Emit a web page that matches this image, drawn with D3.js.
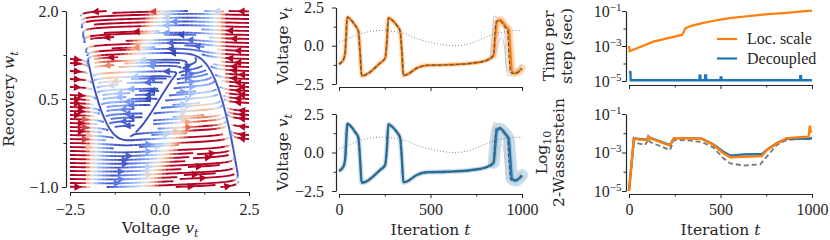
<!DOCTYPE html>
<html>
<head>
<meta charset="utf-8">
<script src="https://cdn.jsdelivr.net/npm/d3@7"></script>
<style>
  body { margin: 0; background: #fff; }
  svg text { font-family: "Liberation Serif", "Times New Roman", serif; font-size: 16px; fill: #262626; }
  svg text.lab { font-family: "DejaVu Serif", serif; font-size: 15.5px; }
</style>
</head>
<body>
<svg id="chart" width="830" height="240"></svg>
<script>
// FitzHugh-Nagumo field drawn in the phase portrait
var fhnI = 0.5, fhnA = 0.7, fhnB = 0.8, fhnTau = 40;
var vExtent = [-2.5, 2.5],
    wExtent = [-1, 2],
    streamDensity = 1.5,
    colorNorm = [0, 2.0];

// ticks
var voltTicks = [-2.5, 0, 2.5], voltMinor = [-1.25, 1.25];
var recovTicks = [-1, 0.5, 2], recovMinor = [-0.25, 1.25];
var iterTicks = [0, 500, 1000], iterMinor = [250, 750];
var logTicks = [1e-5, 1e-3, 1e-1], logMinor = [1e-4, 1e-2];

// voltage traces (filter means)
var tVolt = [0, 24, 33, 46, 60, 88, 106, 115, 124, 133, 224, 252, 261, 270, 288, 316, 334, 343, 352, 370,
             425, 480, 589, 717, 808, 845, 854, 863, 881, 909, 927, 936, 945, 964, 1000];
var voltLoc = [-1.20, -0.92, -0.50, 1.87, 1.76, 1.33, 0.95, -0.40, -1.96, -1.95, -1.14, -0.82, 0.15, 1.83, 1.70, 1.33, 0.95, -0.30, -1.94, -1.89,
               -1.46, -1.28, -1.25, -1.15, -0.95, -0.62, 0.60, 1.55, 1.68, 1.30, 1.05, -0.30, -1.68, -1.80, -1.46];
var voltDec = [-1.20, -0.92, -0.50, 1.87, 1.76, 1.33, 0.95, -0.40, -1.96, -1.95, -1.14, -0.82, 0.15, 1.83, 1.70, 1.33, 0.95, -0.30, -1.94, -1.89,
               -1.46, -1.28, -1.25, -1.15, -0.95, -0.66, 0.45, 1.45, 1.55, 1.20, 0.90, -0.40, -1.70, -1.82, -1.48];
// ground truth (dashed)
var tTrue = [0, 24, 33, 46, 60, 88, 106, 115, 124, 133, 224, 252, 261, 270, 288, 316, 334, 343, 352, 370,
             425, 480, 589, 717, 808, 845, 852, 860, 878, 905, 921, 929, 938, 958, 1000];
var voltTrue = [-1.20, -0.92, -0.50, 1.87, 1.76, 1.33, 0.95, -0.40, -1.96, -1.95, -1.14, -0.82, 0.15, 1.83, 1.70, 1.33, 0.95, -0.30, -1.94, -1.89,
                -1.46, -1.28, -1.25, -1.15, -0.95, -0.60, 0.80, 1.60, 1.62, 1.25, 0.98, -0.60, -1.75, -1.83, -1.52];
// two light sample paths
var tSampleA = [0, 24, 33, 46, 60, 88, 106, 117, 126, 135, 224, 252, 262, 272, 290, 316, 334, 345, 354, 372,
                425, 480, 589, 717, 790, 827, 838, 848, 858, 880, 900, 908, 915, 925, 950, 1000];
var sampleA = [-1.15, -0.90, -0.45, 1.85, 1.75, 1.35, 0.98, -0.40, -1.94, -1.93, -1.12, -0.80, 0.15, 1.82, 1.70, 1.35, 0.98, -0.30, -1.92, -1.88,
               -1.45, -1.27, -1.24, -1.12, -1.00, -0.70, 0.80, 1.95, 1.90, 1.70, 1.40, 0.50, -1.60, -1.95, -1.85, -1.25];
var tSampleB = [0, 24, 33, 46, 60, 88, 106, 113, 122, 131, 224, 252, 260, 269, 288, 316, 334, 341, 350, 368,
                425, 480, 589, 717, 808, 850, 870, 885, 895, 905, 915, 930, 960, 1000];
var sampleB = [-1.25, -0.95, -0.55, 1.88, 1.77, 1.30, 0.92, -0.40, -1.97, -1.96, -1.16, -0.84, 0.10, 1.84, 1.70, 1.30, 0.92, -0.30, -1.95, -1.90,
               -1.47, -1.29, -1.26, -1.17, -0.97, -0.72, 0.15, 0.50, 0.42, -0.20, -1.30, -1.70, -1.60, -1.22];
// input current (dotted)
var tInput = [0, 60, 115, 180, 243, 316, 380, 425, 490, 553, 626, 680, 717, 760, 808, 860, 900, 950, 1000];
var inputCurrent = [0.22, 0.52, 0.78, 0.95, 1.0, 0.9, 0.7, 0.47, 0.25, 0.09, 0.0, 0.05, 0.15, 0.35, 0.58, 0.8, 0.9, 0.98, 1.0];

// time per step (sec)
var tStepLoc = [0, 3, 133, 288, 298, 307, 325, 350, 407, 450, 498, 560, 620, 680, 760, 863, 930, 1000];
var stepLoc = [1.0e-3, 5.0e-4, 1.78e-3, 4.3e-3, 6.0e-3, 1.0e-2, 1.26e-2, 1.5e-2, 2.1e-2, 2.6e-2, 3.2e-2, 4.0e-2, 4.7e-2, 5.4e-2, 6.6e-2, 7.9e-2, 9.1e-2, 1.05e-1];
var tStepDec = [0, 8, 9, 385, 386, 390, 391, 415, 416, 421, 422, 500, 501, 505, 506, 935, 936, 940, 941, 1000];
var stepDec = [3.4e-5, 3.2e-5, 1.1e-5, 1.1e-5, 2.0e-5, 2.0e-5, 1.1e-5, 1.1e-5, 2.1e-5, 2.1e-5, 1.1e-5, 1.1e-5, 1.6e-5, 1.6e-5, 1.1e-5,
               1.1e-5, 1.9e-5, 1.9e-5, 1.1e-5, 1.1e-5];

// 2-Wasserstein distance
var tW2 = [0, 27, 51, 88, 100, 106, 115, 170, 224, 246, 316, 398, 462, 516, 553, 626, 726, 754, 808, 863, 936, 982, 988, 993, 1000];
var w2Loc = [1e-5, 5.5e-3, 4.8e-3, 4.5e-3, 4.3e-3, 6.6e-3, 5.5e-3, 3.6e-3, 2.3e-3, 5.5e-3, 5.5e-3, 5.0e-3, 2.45e-3, 9.1e-4, 5.6e-4, 6.0e-4,
             6.6e-4, 1.35e-3, 3.0e-3, 5.5e-3, 6.2e-3, 6.6e-3, 2.5e-2, 1.2e-2, 1.3e-2];
var w2Dec = [1e-5, 5.7e-3, 5.0e-3, 4.7e-3, 4.5e-3, 6.8e-3, 5.7e-3, 3.8e-3, 2.4e-3, 5.6e-3, 5.6e-3, 5.2e-3, 2.6e-3, 1.1e-3, 6.9e-4, 7.9e-4,
             8.3e-4, 1.4e-3, 3.1e-3, 5.3e-3, 5.2e-3, 5.3e-3, 5.4e-3, 5.5e-3, 5.5e-3];
var tW2Ref = [0, 27, 51, 88, 106, 115, 224, 246, 316, 398, 462, 516, 553, 626, 717, 754, 808, 863, 936, 1000];
var w2Ref = [1e-5, 4.5e-3, 3.0e-3, 2.45e-3, 5.0e-3, 3.5e-3, 1.35e-3, 4.5e-3, 4.3e-3, 3.5e-3, 1.8e-3, 5.0e-4, 2.75e-4, 2.1e-4, 2.45e-4,
             6.3e-4, 2.5e-3, 4.5e-3, 5.0e-3, 5.0e-3];

var seriesNames = ["Loc. scale", "Decoupled"];

var orange = "#ff7f0e", blue = "#1f77b4", ink = "#262626";

var svg = d3.select("#chart");

var coolwarm = d3.piecewise(d3.interpolateRgb, [
  "#3b4cc0", "rgb(98,130,234)", "rgb(141,176,254)", "rgb(184,208,249)", "rgb(221,221,221)",
  "rgb(245,196,172)", "rgb(244,154,123)", "rgb(222,96,77)", "#b40426"]);

function zip(ts, vs) { return ts.map(function(t, i) { return [t, vs[i]]; }); }

// ---------- axes helper ----------
function drawAxes(g, o) {
  var xa = d3.axisBottom(o.x).tickValues(o.xTicks).tickSize(4).tickSizeOuter(0).tickPadding(o.xPad || 6)
      .tickFormat(o.xLabels ? o.xFormat : "");
  g.append("g").attr("transform", "translate(0," + o.bottom + ")").call(xa);
  g.append("g").attr("transform", "translate(0," + o.bottom + ")")
      .call(d3.axisBottom(o.x).tickValues(o.xMinor).tickSize(2.5).tickFormat(""))
      .call(function(s) { s.select(".domain").remove(); });

  var ya = d3.axisLeft(o.y).tickValues(o.yTicks).tickSize(4).tickSizeOuter(0).tickPadding(o.yPad || 4)
      .tickFormat(o.yLog ? "" : o.yFormat);
  var gy = g.append("g").attr("transform", "translate(" + o.left + ",0)").call(ya);
  g.append("g").attr("transform", "translate(" + o.left + ",0)")
      .call(d3.axisLeft(o.y).tickValues(o.yMinor).tickSize(2.5).tickFormat(""))
      .call(function(s) { s.select(".domain").remove(); });

  if (o.yLog) {
    gy.selectAll(".tick text").each(function(d) {
      var t = d3.select(this).text("10");
      t.append("tspan").attr("dy", -6).style("font-size", "11px").text("\u2212" + Math.round(-Math.log10(d)));
    });
  }
  g.selectAll(".domain").attr("stroke", ink).attr("stroke-width", 1.2);
  g.selectAll(".tick line").attr("stroke", ink).attr("stroke-width", 1);
  g.selectAll(".tick text").attr("fill", ink);
  g.selectAll("g").attr("font-family", null).attr("font-size", null);
}

function mathText(sel, parts) {
  parts.forEach(function(p) {
    var s = sel.append("tspan").text(p.t);
    if (p.it) s.style("font-style", "italic");
    if (p.sub) s.attr("dy", 4).style("font-size", "11px");
  });
  return sel;
}

function yLabel(x, y, parts) {
  var t = svg.append("text").attr("class", "lab")
      .attr("transform", "translate(" + x + "," + y + ") rotate(-90)").attr("text-anchor", "middle");
  return mathText(t, parts);
}
function xLabel(x, y, parts) {
  var t = svg.append("text").attr("class", "lab").attr("x", x).attr("y", y).attr("text-anchor", "middle");
  return mathText(t, parts);
}

var f1 = d3.format(".1f");

// ---------- panel A: stream plot ----------
function fhn(v, w) {
  return [v - v * v * v / 3 - w + fhnI, (v + fhnA - fhnB * w) / fhnTau];
}
// colour value: small on either nullcline
function fieldColor(p) {
  var d = fhn(p[0], p[1]);
  return Math.abs(d[0] * d[1]) * fhnTau;
}

// same recipe as matplotlib's streamplot: occupancy mask, spiral seeds, rk12 steps
function streamlines() {
  var nx = Math.floor(30 * streamDensity), ny = nx;
  var mask = new Uint8Array(nx * ny);
  var maxds = Math.min(1 / nx, 1 / ny, 0.1), maxerror = 0.003, maxlength = 4, minlength = 0.1;
  var vs = vExtent[1] - vExtent[0], ws = wExtent[1] - wExtent[0];
  function within(X, Y) { return X >= 0 && X <= 1 && Y >= 0 && Y <= 1; }
  function f(X, Y, sign) {
    var d = fhn(vExtent[0] + X * vs, wExtent[0] + Y * ws);
    var U = d[0] / vs, V = d[1] / ws, s = Math.hypot(U, V);
    if (s === 0) return null;
    return [sign * U / s, sign * V / s];
  }
  var traj = [], cur = -1;
  function visit(X, Y) {
    var key = Math.round(Y * (ny - 1)) * nx + Math.round(X * (nx - 1));
    if (cur === key) return true;
    if (mask[key]) return false;
    mask[key] = 1; traj.push(key); cur = key;
    return true;
  }
  function rk12(X, Y, sign) {
    var ds = maxds, stotal = 0, pts = [];
    while (true) {
      pts.push([X, Y]);
      var k1 = f(X, Y, sign);
      if (!k1) break;
      var Xt = X + ds * k1[0], Yt = Y + ds * k1[1];
      if (!within(Xt, Yt)) {
        var dsx = k1[0] === 0 ? Infinity : (k1[0] < 0 ? X / -k1[0] : (1 - X) / k1[0]);
        var dsy = k1[1] === 0 ? Infinity : (k1[1] < 0 ? Y / -k1[1] : (1 - Y) / k1[1]);
        var e = Math.min(dsx, dsy);
        pts.push([X + k1[0] * e, Y + k1[1] * e]);
        stotal += e;
        break;
      }
      var k2 = f(Xt, Yt, sign);
      if (!k2) break;
      var dx1 = ds * k1[0], dy1 = ds * k1[1];
      var dx2 = ds * 0.5 * (k1[0] + k2[0]), dy2 = ds * 0.5 * (k1[1] + k2[1]);
      var err = Math.hypot(dx2 - dx1, dy2 - dy1);
      if (err < maxerror) {
        X += dx2; Y += dy2;
        if (!within(X, Y) || !visit(X, Y)) break;
        if (stotal + ds > maxlength) break;
        stotal += ds;
      }
      ds = err === 0 ? maxds : Math.min(maxds, 0.85 * ds * Math.sqrt(maxerror / err));
    }
    return [stotal, pts];
  }

  var seeds = [], x = 0, y = 0, xfirst = 0, yfirst = 1, xlast = nx - 1, ylast = ny - 1, dir = "right";
  for (var i = 0; i < nx * ny; i++) {
    seeds.push([x, y]);
    if (dir === "right") { x++; if (x >= xlast) { xlast--; dir = "up"; } }
    else if (dir === "up") { y++; if (y >= ylast) { ylast--; dir = "left"; } }
    else if (dir === "left") { x--; if (x <= xfirst) { xfirst++; dir = "down"; } }
    else { y--; if (y <= yfirst) { yfirst++; dir = "right"; } }
  }

  var out = [];
  seeds.forEach(function(sd) {
    var key = sd[1] * nx + sd[0];
    if (mask[key]) return;
    var X0 = sd[0] / (nx - 1), Y0 = sd[1] / (ny - 1);
    traj = []; cur = -1;
    if (!visit(X0, Y0)) return;
    var b = rk12(X0, Y0, -1);
    cur = key;
    var fw = rk12(X0, Y0, 1);
    if (b[0] + fw[0] > minlength) {
      out.push(b[1].reverse().concat(fw[1].slice(1)).map(function(p) {
        return [vExtent[0] + p[0] * vs, wExtent[0] + p[1] * ws];
      }));
    } else {
      traj.forEach(function(k) { mask[k] = 0; });
    }
  });
  return out;
}

var xA = d3.scaleLinear().domain(vExtent).range([70, 249]);
var yA = d3.scaleLinear().domain(wExtent).range([187, 11]);

var gA = svg.append("g");
var gLines = gA.append("g").attr("fill", "none").attr("stroke-width", 1.9)
    .attr("stroke-linejoin", "round").attr("stroke-linecap", "butt");
var gArrows = gA.append("g");
var nBins = 48;
function binOf(s) {
  var t = Math.max(0, Math.min(1, (s - colorNorm[0]) / (colorNorm[1] - colorNorm[0])));
  return Math.round(t * nBins);
}
var lineGen = d3.line().x(function(p) { return xA(p[0]); }).y(function(p) { return yA(p[1]); });

streamlines().forEach(function(pts) {
  if (pts.length < 2) return;
  var bins = pts.map(function(p) { return binOf(fieldColor(p)); });
  var start = 0;
  for (var i = 1; i <= pts.length - 1; i++) {
    if (i === pts.length - 1 || bins[i] !== bins[start]) {
      gLines.append("path").attr("d", lineGen(pts.slice(start, i + 1)))
          .attr("stroke", coolwarm(bins[start] / nBins));
      start = i;
    }
  }
  // arrow at the middle of the streamline
  var s = [0];
  for (var j = 1; j < pts.length; j++) s.push(s[j - 1] + Math.hypot(pts[j][0] - pts[j - 1][0], pts[j][1] - pts[j - 1][1]));
  var half = s[s.length - 1] / 2, n = 0;
  while (n < s.length - 2 && s[n + 1] < half) n++;
  var tail = [xA(pts[n][0]), yA(pts[n][1])];
  var head = [(xA(pts[n][0]) + xA(pts[n + 1][0])) / 2, (yA(pts[n][1]) + yA(pts[n + 1][1])) / 2];
  var dx = head[0] - tail[0], dy = head[1] - tail[1], L = Math.hypot(dx, dy);
  if (L === 0) return;
  dx /= L; dy /= L;
  var hl = 5.4, hw = 2.8;
  var bx = head[0] - hl * dx, by = head[1] - hl * dy;
  var c = coolwarm(bins[n] / nBins);
  gArrows.append("path")
      .attr("d", "M" + head[0] + "," + head[1] + "L" + (bx - hw * dy) + "," + (by + hw * dx) +
                 "L" + (bx + hw * dy) + "," + (by - hw * dx) + "Z")
      .attr("fill", c).attr("stroke", c).attr("stroke-width", 1.2).attr("stroke-linejoin", "miter");
});

drawAxes(gA, {x: xA, y: yA, xTicks: voltTicks, xMinor: voltMinor, yTicks: recovTicks, yMinor: recovMinor,
  left: 66, bottom: 192, xLabels: true, xFormat: f1, yFormat: f1, xPad: 7.5, yPad: 3.5});
xLabel(160, 233, [{t: "Voltage "}, {t: "v", it: true}, {t: "t", it: true, sub: true}]);
yLabel(14, 99, [{t: "Recovery "}, {t: "w", it: true}, {t: "t", it: true, sub: true}]);

// ---------- panels B: voltage traces ----------
var xB = d3.scaleLinear().domain([0, 1000]).range([339, 522]);

function voltPanel(yr, bottom, mean, tMean, col, halo, haloSpike, showX) {
  var y = d3.scaleLinear().domain([-2.5, 2.5]).range(yr);
  var g = svg.append("g");
  var line = d3.line().x(function(d) { return xB(d[0]); }).y(function(d) { return y(d[1]); })
      .curve(d3.curveMonotoneX);
  var m = zip(tMean, mean);
  g.append("path").attr("d", line(m)).attr("fill", "none").attr("stroke", col)
      .attr("stroke-opacity", 0.22).attr("stroke-width", halo).attr("stroke-linejoin", "round");
  g.append("path").attr("d", line(m.filter(function(d) { return d[0] >= 835; })))
      .attr("fill", "none").attr("stroke", col).attr("stroke-opacity", 0.25)
      .attr("stroke-width", haloSpike).attr("stroke-linejoin", "round").attr("stroke-linecap", "round");
  [zip(tSampleA, sampleA), zip(tSampleB, sampleB)].forEach(function(s) {
    g.append("path").attr("d", line(s)).attr("fill", "none").attr("stroke", "#c8c8c8").attr("stroke-width", 1);
  });
  g.append("path").attr("d", line(zip(tInput, inputCurrent))).attr("fill", "none")
      .attr("stroke", "#8a8a8a").attr("stroke-width", 1).attr("stroke-dasharray", "1,2");
  g.append("path").attr("d", line(m)).attr("fill", "none").attr("stroke", col).attr("stroke-width", 2.4)
      .attr("stroke-linejoin", "round");
  g.append("path").attr("d", line(zip(tTrue, voltTrue))).attr("fill", "none").attr("stroke", "#555")
      .attr("stroke-width", 1.2).attr("stroke-dasharray", "4,2");
  drawAxes(g, {x: xB, y: y, xTicks: iterTicks, xMinor: iterMinor, yTicks: voltTicks, yMinor: voltMinor,
    left: 336, bottom: bottom, xLabels: showX, xFormat: d3.format("d"), yFormat: f1, xPad: 6, yPad: 8});
  yLabel(288, (yr[0] + yr[1]) / 2, [{t: "Voltage "}, {t: "v", it: true}, {t: "t", it: true, sub: true}]);
}
voltPanel([84, 7.5], 87, voltLoc, tVolt, orange, 5, 8, false);
voltPanel([191, 114], 194, voltDec, tVolt, blue, 5, 12, true);
xLabel(430.5, 235, [{t: "Iteration "}, {t: "t", it: true}]);

// ---------- panels C: cost and accuracy ----------
var xC = d3.scaleLinear().domain([0, 1000]).range([629, 812]);

var yC1 = d3.scaleLog().domain([1e-5, 1e-1]).range([81, 11]);
var gC1 = svg.append("g");
var lineC1 = d3.line().x(function(d) { return xC(d[0]); }).y(function(d) { return yC1(d[1]); });
gC1.append("path").attr("d", lineC1(zip(tStepDec, stepDec))).attr("fill", "none").attr("stroke", blue)
    .attr("stroke-width", 2.4);
gC1.append("path").attr("d", lineC1(zip(tStepLoc, stepLoc))).attr("fill", "none").attr("stroke", orange)
    .attr("stroke-width", 2.2);
drawAxes(gC1, {x: xC, y: yC1, xTicks: iterTicks, xMinor: iterMinor, yTicks: logTicks, yMinor: logMinor,
  left: 626, bottom: 85, xLabels: false, yLog: true, yPad: 0.5});
yLabel(554, 46, [{t: "Time per"}]);
yLabel(572, 46, [{t: "step (sec)"}]);

// legend
var legend = svg.append("g").attr("transform", "translate(717,39)");
[orange, blue].forEach(function(c, i) {
  var r = legend.append("g").attr("transform", "translate(0," + (i * 19.5) + ")");
  r.append("line").attr("x1", 0).attr("x2", 20).attr("stroke", c).attr("stroke-width", 2.2);
  r.append("text").attr("x", 30).attr("y", 5).text(seriesNames[i]);
});

var yC2 = d3.scaleLog().domain([1e-5, 1e-1]).range([191, 114]);
var gC2 = svg.append("g");
var lineC2 = d3.line().x(function(d) { return xC(d[0]); }).y(function(d) { return yC2(d[1]); });
gC2.append("path").attr("d", lineC2(zip(tW2Ref, w2Ref))).attr("fill", "none").attr("stroke", "#777")
    .attr("stroke-width", 1.8).attr("stroke-dasharray", "5,3");
gC2.append("path").attr("d", lineC2(zip(tW2, w2Dec))).attr("fill", "none").attr("stroke", blue)
    .attr("stroke-width", 2.4);
gC2.append("path").attr("d", lineC2(zip(tW2, w2Loc))).attr("fill", "none").attr("stroke", orange)
    .attr("stroke-width", 2.4);
drawAxes(gC2, {x: xC, y: yC2, xTicks: iterTicks, xMinor: iterMinor, yTicks: logTicks, yMinor: logMinor,
  left: 626, bottom: 194, xLabels: true, xFormat: d3.format("d"), yLog: true, xPad: 6, yPad: 0.5});
yLabel(547, 152.5, [{t: "Log"}, {t: "10", sub: true}]);
yLabel(564, 152.5, [{t: "2-Wasserstein"}]);
xLabel(720.5, 235, [{t: "Iteration "}, {t: "t", it: true}]);
</script>
</body>
</html>
